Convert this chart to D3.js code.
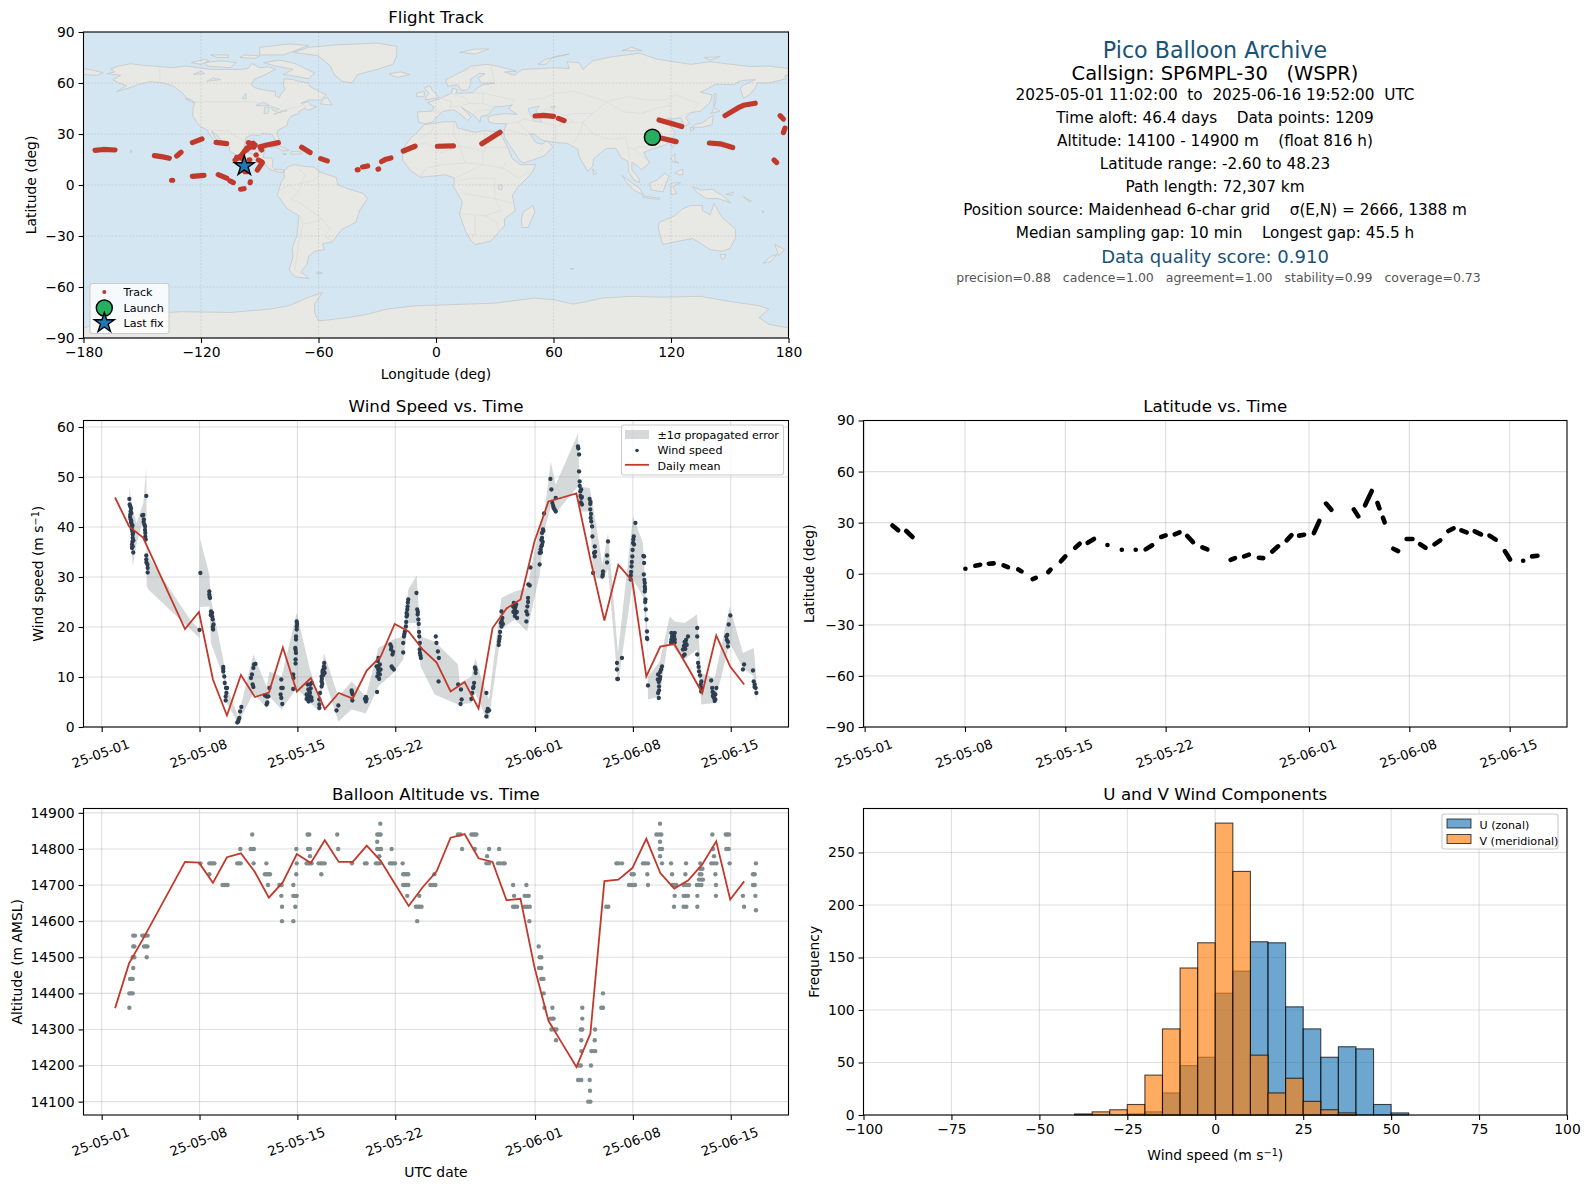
<!DOCTYPE html>
<html>
<head>
<meta charset="utf-8">
<script src="https://cdn.jsdelivr.net/npm/d3@7"></script>
<style>
html, body { margin: 0; padding: 0; background: #fff; }
svg { display: block; }
text { font-family: "DejaVu Sans", sans-serif; fill: #000; white-space: pre; }
</style>
</head>
<body>
<div id="chart"></div>
<script>
// ---- dates: every series below holds days since 2025-05-01 00:00 UTC
var startDate = Date.UTC(2025, 4, 1);
var dateTicks = [0, 7, 14, 21, 31, 38, 45];

// ---- daily means
var dailyDays = [0.96, 1.96, 2.96, 5.96, 6.96, 7.96, 8.96, 9.96, 10.96, 11.96, 12.96, 13.96, 14.96, 15.96, 16.96, 17.96, 18.96, 19.96, 20.96, 21.96, 22.96, 23.96, 24.96, 25.96, 26.96, 27.96, 28.96, 29.96, 30.96, 31.96, 32.96, 33.96, 34.96, 35.96, 36.96, 37.96, 38.96, 39.96, 40.96, 41.96, 42.96, 43.96, 44.96, 45.96];
var dailyWind = [45.9, 40.1, 37.9, 19.6, 23.0, 9.5, 2.3, 10.4, 6.0, 6.9, 15.9, 7.1, 9.8, 3.6, 6.8, 5.7, 11.3, 14.1, 20.6, 19.1, 15.5, 12.9, 7.1, 9.0, 3.7, 19.8, 23.7, 25.5, 37.1, 45.1, 45.9, 46.7, 33.5, 21.3, 32.4, 29.2, 10.1, 16.1, 16.6, 11.8, 6.8, 18.3, 12.1, 8.5];
var dailyAltitude = [14359, 14483, 14551, 14764, 14762, 14706, 14777, 14788, 14736, 14665, 14708, 14786, 14761, 14824, 14764, 14764, 14809, 14767, 14704, 14642, 14694, 14738, 14831, 14841, 14774, 14764, 14658, 14662, 14472, 14324, 14260, 14196, 14289, 14711, 14715, 14747, 14828, 14733, 14690, 14713, 14757, 14821, 14660, 14710];

// ---- wind speed error band [day, low, high]
var windBand = [[1.98,44.1,48.0],[2.22,32.1,43.5],[2.5,36.8,40.8],[2.98,41.5,44.8],[3.19,42.1,51.8],[3.22,28.1,37.1],[3.34,27.5,34.1],[6.32,19.6,21.5],[6.98,17.8,19.5],[7.03,24,37.7],[7.7,24.1,30.5],[7.82,16.8,25.5],[8.7,10,13.5],[8.94,4.8,8.1],[9.77,0.8,2.1],[10.85,6.8,14.5],[11.8,3.8,8.1],[12,6.1,11.1],[12.87,3.5,10.1],[13.95,7.8,22.8],[14.9,4.8,11.5],[15.57,3.1,5.8],[15.9,10.1,14.8],[16.93,1.1,6.1],[17.88,3.5,9.1],[18.9,2.7,6.1],[19.79,8.1,15.8],[20.86,10.8,17.5],[21.57,13.5,18.1],[21.93,20.8,27.5],[22.53,20.8,30.3],[22.81,12.1,18.1],[23.82,6.5,17.1],[25.49,4.5,12.5],[25.61,4.5,8.8],[26.45,4.8,10.1],[26.73,6.8,13.8],[27.04,4.8,10.8],[27.52,1.8,6.8],[27.71,1.5,5.5],[28.59,19.5,25.8],[29.55,21.5,27.1],[30.43,19.1,27.8],[31.33,30.5,40.1],[31.69,39.5,43.5],[32.12,44.1,53.1],[32.48,42.8,48.5],[34.07,48.1,58.7],[34.19,43.1,48.1],[34.91,43.1,47.8],[35.15,30.1,44.1],[35.82,29.5,32.5],[36.22,31.5,38.8],[36.93,8.5,14.8],[38.01,29.5,42.1],[38.72,26.1,36.8],[39.03,16.1,19.5],[39.08,5.5,10.1],[39.92,6.1,13.1],[40.63,19.5,22.1],[40.99,15.5,21.1],[41.7,13.5,20.8],[42.58,15.5,22.5],[42.9,4.5,10.8],[43.85,4.8,9.8],[44.92,16.8,24.1],[45.87,11.8,14.8],[46.64,10.1,15.8],[46.83,4.8,10.1]];

// ---- wind speed fixes [day, m/s]
var windPoints = [[1.98,45.6],[2.0,44.5],[2.05,44.1],[2.1,43.7],[2.07,43.1],[2.12,42.8],[2.03,42],[2.07,41.5],[2.1,40.9],[2.15,40.5],[2.17,40.1],[2.2,39.1],[2.22,38.5],[2.22,37.8],[2.2,37.1],[2.22,36.1],[2.17,35.8],[2.26,34.9],[2.15,39.6],[2.25,38.9],[2.12,41.2],[2.2,40.3],[2.05,42.5],[2.17,36.5],[2.27,37.3],
[3.19,46.2],[2.9,42.3],[2.98,42.4],[3.02,41.5],[3.05,40.5],[3.1,40.1],[3.12,38.8],[3.12,38.1],[3.15,37.5],[3.19,34.3],[3.19,33.5],[3.27,32.5],[3.29,31.8],[3.29,30.9],[3.0,41],[3.1,39.4],[3.2,32.9],
[7.06,30.8],[7.0,19.4],[7.7,27.1],[7.7,26.5],[7.75,25.8],[7.82,23.1],[7.9,22.8],[7.9,22.1],[7.95,21.5],[8.0,20.5],[7.97,19.5],[7.8,22.4],[7.95,20],[7.72,26],
[8.7,12],[8.7,11.1],[8.77,10.1],[8.8,8.8],[8.89,7.8],[8.97,7.8],[8.92,6.8],[8.87,6.1],[8.87,5.3],[8.7,11.6],
[9.99,4],[9.9,3.1],[9.85,1.8],[9.77,1.1],[9.7,0.9],[9.8,1.5],
[10.9,12.5],[10.85,11.8],[10.75,10.5],[10.68,9.8],[10.8,8.5],[10.85,8],[11.0,12.6],
[11.68,6.3],[11.8,6.1],[11.92,6.1],[12,7.8],[11.8,4.5],[11.85,4.9],
[12.85,9.5],[12.85,7.8],[12.8,6.5],[12.85,5.8],[12.92,4.6],[12.95,7.8],
[13.7,7.6],[13.7,10.5],[13.72,9.8],[13.95,21.1],[13.95,20.1],[13.95,19.5],[13.9,18.1],[13.9,17.5],[13.85,15.8],[13.9,14.8],[13.87,13.5],[13.87,12.7],[13.98,20.6],[13.87,15.4],
[14.73,8.5],[14.9,8.5],[15.02,8.8],[14.78,7.5],[14.9,6.8],[14.66,6.5],[14.9,6.1],[14.78,5.5],[15.02,5.3],[14.66,5.6],[14.85,7.1],[14.72,6],[14.95,7.7],[14.8,5.1],[15.0,5.9],
[15.57,3.8],[15.57,4.5],[15.57,5.5],[15.62,6.8],[15.73,8.1],[15.73,9.1],[15.73,10.1],[15.8,10.8],[15.85,11.5],[15.9,12.1],[15.92,12.8],[15.8,11.2],[15.95,11.8],[15.75,9.6],[15.85,10.4],[15.95,10.8],[15.9,11],[15.78,8.6],
[16.93,4.3],[16.8,3.3],[17.88,7.3],[17.95,6.5],[17.93,5.3],[17.9,6.9],[18.9,6],[18.9,5.1],[18.83,5.6],[18.95,5.6],
[19.7,7],[19.78,12.1],[19.78,11.5],[19.78,10.8],[19.72,10.1],[19.67,12.1],[19.9,12.5],[19.95,11.5],[19.9,10.5],[19.85,11.2],[19.75,13.2],[19.8,13.8],[19.85,9.6],
[20.65,16.5],[20.7,15.5],[20.8,14.5],[20.74,12.1],[20.8,11.8],[20.9,11.5],[20.85,15],[20.72,16],
[21.57,14.9],[21.57,16.8],[21.62,18.1],[21.69,19.1],[21.76,20.1],[21.81,22.1],[21.86,23.5],[21.88,24.1],[21.93,25.5],[21.81,22.8],[21.78,21],[21.65,18.6],[21.9,24.9],[21.85,22.4],
[22.52,26.8],[22.57,23.5],[22.6,22.5],[22.65,21.5],[22.72,18.1],[22.76,16.8],[22.76,14.8],[22.83,13.8],[22.7,19],[22.75,15.5],[22.62,23],[22.68,20.6],[22.8,14.3],
[23.9,18.1],[23.95,16.8],[24.05,15.1],[24.12,13.8],[24.1,9.1],
[25.5,8.5],[25.7,7.5],[25.75,5.5],[25.67,4.6],[26.45,5.6],[26.57,7.8],[26.64,8.8],[26.5,6.8],[26.75,11.5],[26.75,10.8],[26.6,8],[26.7,11.9],
[27.52,6.8],[27.57,3.1],[27.52,2.1],[27.71,3.3],[27.62,3.6],
[28.42,17.1],[28.47,18.1],[28.6,20.1],[28.66,21.8],[28.6,23.1],[28.5,19],[28.55,20.8],[28.4,16.4],[28.45,17.6],[28.62,21.2],[28.7,20.6],
[29.43,24.1],[29.55,23.5],[29.62,22.8],[29.71,21.8],[29.48,24.8],[29.6,24],[29.45,23],[29.7,23],[29.55,22.2],[29.65,24.5],[29.5,24],
[30.38,21.1],[30.38,23.1],[30.45,24.1],[30.5,25.8],[30.52,28.5],[30.62,28.3],[30.45,22.5],[30.5,25],
[30.67,31.9],[31.33,32.5],[31.33,34.8],[31.45,36.1],[31.5,37.8],[31.57,39.5],[31.64,42.7],[31.4,35.5],[31.5,38.8],[31.55,37],[31.45,37.4],[31.5,36.4],[31.6,39.2],[31.42,34.9],
[32.1,49.6],[32.17,47.5],[32.24,44.8],[32.33,43.8],[32.48,43.1],[32.48,45.8],[32.3,44.2],[32.4,43.5],
[34.07,56.1],[34.15,54.5],[34.15,51.1],[34.19,49.1],[34.24,47.1],[34.31,45.8],[34.36,44.5],[34.25,46.2],[34.3,47.5],[34.1,55.7],[34.35,46],[34.28,44.9],[34.2,48.2],
[34.9,45.6],[34.95,43.5],[34.98,41.8],[35.08,40.1],[35.1,38.1],[34.95,44.6],[35,42.6],[34.97,45],[35.02,41.1],
[35.27,36.1],[35.27,34.1],[35.15,30.8],[35.3,35],[35.22,34.8],[35.86,31.1],[35.82,30.1],[36.22,37.1],[36.15,34.3],[36.15,32.9],[35.85,30.5],
[36.86,12.8],[36.86,11.5],[36.93,9.6],[37.22,13.8],[36.88,9.6],
[37.84,29.5],[37.9,32.1],[37.96,34.1],[38.06,38.1],[38.18,40.8],[38.01,36.8],[37.87,31],[37.92,33],[38.03,37.5],[37.98,35.4],[37.85,30.3],[38.08,36.5],
[38.8,34.1],[38.8,32.8],[38.78,30.5],[38.85,28.1],[38.85,27.1],[38.9,25.5],[38.92,23.5],[38.97,21.5],[39.01,19.1],[39.03,17.6],[38.85,28.8],[38.87,27.6],[38.82,29.4],[38.88,25],[39.0,17.8],[38.75,34.2],
[39.08,8.3],[39.8,10.5],[39.92,9.5],[39.87,8.1],[39.8,6.8],[40.08,12.1],[39.95,11],[39.87,7.3],[39.85,9],[39.95,10],[39.78,9.5],[40.02,11.5],[39.85,5.8],
[40.75,18.8],[40.99,18.8],[40.87,17.5],[40.75,17.5],[40.99,17.5],[40.87,18.2],[40.8,18.1],[40.95,18.1],[40.85,16.8],[40.99,16.9],[40.72,16.9],
[41.58,15.5],[41.77,16.8],[41.94,18.1],[41.7,14.5],[41.65,16.2],[41.8,17.4],[41.7,17],[41.85,16.4],[41.6,14.2],[41.75,15.6],
[42.6,19.8],[42.6,18.1],[42.6,14.5],[42.66,12.8],[42.73,11.1],[42.9,9.1],[42.9,7.8],[42.7,12],[42.8,10.3],[42.85,8.5],[42.88,7.1],
[43.6,9.3],[43.67,7.8],[43.76,6.1],[43.9,5.5],[43.97,7.8],[43.7,7],[43.8,5.8],[43.85,5.2],[43.78,6.8],[43.9,6.5],[43.72,6.2],
[44.68,18.1],[44.8,16.1],[44.85,20.5],[44.97,22.3],[44.72,17.4],[44.8,17],[44.75,18.4],
[45.87,11.5],[45.95,12.5],[46.59,11.3],[46.64,9.1],[46.71,8.5],[46.78,7.8],[46.83,6.8],[46.7,8]];

// ---- altitude fixes: reported altitude, then the days it was reported
var altitudeFixes = [
[14100,[34.81,34.96]],[14130,[34.93]],[14160,[34.08,34.19,34.31,34.91]],[14200,[34.12,34.27,35.0]],
[14240,[34.31,35.03,35.15,35.31]],[14270,[34.31,35.27,32.50]],[14300,[32.17,32.41,32.53,34.27,34.38,35.29]],
[14330,[32.10,32.24,32.33,34.38]],[14360,[1.98,31.67,32.24,34.38,35.74,35.86]],[14400,[1.98,2.10,2.22,31.62,35.86]],
[14440,[2.03,2.12,2.22,31.45,31.60]],[14470,[2.26,31.29,31.45]],[14500,[2.22,2.34,3.22,31.33,31.45]],
[14530,[2.26,2.34,3.03,3.15,3.27,31.26]],[14560,[2.26,2.38,2.91,3.03,3.15,3.29]],[14600,[12.90,13.71,22.57,30.59]],
[14630,[46.80]],
[14640,[12.90,13.85,22.48,22.60,22.72,22.88,29.43,29.55,29.71,30.26,30.43,30.62,36.10,36.24,40.94,41.63,41.82,42.61,45.95]],
[14670,[12.85,13.71,13.83,13.95,21.86,22.72,29.50,30.26,30.43,30.55,40.99,41.63,41.77,41.94,42.61,43.94,45.87,46.76]],
[14700,[8.65,8.77,8.89,9.01,11.90,12.71,12.87,13.71,21.57,21.69,21.81,21.93,23.51,23.63,23.75,23.87,29.43,30.38,37.72,37.89,38.01,38.15,39.08,40.82,40.99,41.11,41.63,41.82,42.01,42.58,42.73,42.90,43.94,46.59,46.71]],
[14715,[42.73,42.90,43.01]],
[14730,[7.70,11.68,11.80,11.92,12.04,13.92,15.71,21.57,21.69,21.81,21.93,23.80,37.91,38.06,39.03,40.80,41.75,42.78,42.90,43.90,46.59,46.71]],
[14745,[42.82,42.97]],
[14760,[7.06,7.70,7.82,7.94,8.06,9.70,9.82,9.94,10.87,11.78,13.95,14.66,14.78,14.90,15.02,15.52,15.66,15.78,15.95,17.90,18.83,18.95,19.62,19.74,19.90,20.62,20.74,20.86,20.98,21.53,27.52,27.71,28.35,28.52,28.71,28.83,36.82,36.96,37.22,38.72,38.89,39.08,40.08,40.73,41.80,42.82,43.61,43.78,43.97,44.92,46.80]],
[14780,[14.90,19.86,27.57,39.94,43.80]],
[14800,[9.92,10.66,10.77,10.89,13.92,14.76,14.90,16.92,19.71,19.86,19.98,20.74,25.78,26.69,27.71,28.43,39.92,40.08,43.73,44.68,44.85]],
[14820,[19.71,39.94]],
[14840,[10.77,14.73,14.85,16.85,19.71,19.83,19.95,25.49,25.66,26.45,26.57,26.69,26.80,39.68,39.87,40.03,43.68,44.64,44.75,44.87]],
[14870,[19.93,39.94]]
];

// ---- latitude runs [day, lat]
var latitudeRuns = [
[[1.94,28.4],[2.34,25.5]],[[2.9,25.1],[3.34,21.6]],[[7.03,2.9]],[[7.72,4.7],[8.06,5.3]],[[8.66,5.9],[9,6.1]],[[9.69,4.9],[10,3.9]],
[[10.72,2.5],[10.94,1.4]],[[11.72,-3.1],[11.94,-2.4]],[[12.81,1],[12.97,2.4]],[[13.69,7.3],[14,10.2]],[[14.69,15.3],[15,17.6]],
[[15.56,18.2],[16,20.4]],[[16.94,16.9]],[[17.94,14.1]],[[18.91,14.1]],[[19.6,14.3],[20.06,16.7]],[[20.69,21.6],[21,22.5]],
[[21.63,23.1],[21.97,24.3]],[[22.5,22.2],[22.91,18.6]],[[23.56,15.5],[23.91,14.3]],[[25.53,8.2],[25.84,9.2]],[[26.47,10.2],[26.81,11.2]],
[[27.5,9.4],[27.81,9.2]],[[28.44,13.1],[28.84,16.1]],[[29.44,19.6],[29.78,22.7]],[[30.31,22.4],[30.66,22.9]],[[31.34,23.9],[31.72,31]],
[[32.19,41.2],[32.56,37.6]],[[34.13,37.8],[34.44,33.7]],[[34.91,40.2],[35.38,48.6]],[[35.78,41.6],[35.91,38.4]],[[36.16,32.9],[36.28,30.2]],
[[36.88,14.7],[37.22,13.3]],[[37.81,20.4],[38.22,20.4]],[[38.75,17.3],[39.13,15.3]],[[39.75,17.3],[40.16,19.6]],[[40.72,25.1],[41.09,26.7]],
[[41.63,25.5],[42,24.3]],[[42.56,24.9],[43,23.1]],[[43.59,22.4],[44.03,20]],[[44.66,13.3],[45.03,8.4]],[[45.94,7.6]],[[46.56,10.2],[46.94,10.6]]
];

// ---- ground track runs [lon, lat]
var trackRuns = [
[[-174.1,20.4],[-170,20.9],[-163.9,20.6]],[[-143.8,17.3],[-140.1,16.7],[-136.2,15.7]],[[-132.4,17.1],[-130.2,19.3]],[[-124.4,24.9],[-119.5,27.1]],
[[-112.3,25.1],[-106.9,24.3]],[[-135,2.8],[-134.5,2.8]],[[-124.4,5.1],[-118.5,5.7]],[[-111.2,6.1],[-106.9,4]],[[-105.2,2.4],[-103.5,1.4]],
[[-99.8,-2.5],[-98,-2.2]],[[-94.9,1.3],[-94.8,1.9]],
[[-102.6,14.7],[-99.2,17.6],[-96.7,21.6]],[[-96.7,20.6],[-93.3,24.5]],[[-95.8,24.9],[-92.4,23.5]],[[-95.5,22.5],[-93,22.2]],[[-91.9,17.6],[-91.8,17.7]],
[[-90.7,14.7],[-89,13.7]],[[-91.2,8.8],[-88.7,13.1]],[[-97.5,7.8],[-96.9,7.8]],[[-95.3,14.7],[-95.1,14.8]],[[-101.8,16.3],[-99.3,15.7]],
[[-89,20.6],[-89.9,22.5],[-86.4,23.5],[-80.5,24.9]],[[-68.6,22.2],[-64.3,19.1]],[[-58.9,15.5],[-55.5,14.2]],[[-40.2,8.9],[-39.8,9]],
[[-37.5,10.6],[-34.9,11.2]],[[-29.6,9.3],[-29.3,9.4]],[[-27.8,13.8],[-25.5,15.2],[-23,15.9]],[[-16.7,20],[-10.7,22.8]],
[[0.71,22.8],[8.9,23]],[[23.4,24.3],[32.7,31]],[[50.6,40.6],[55,41],[60,40.4]],[[62.5,39.2],[65.4,37.9]],[[113.9,38.3],[125.5,34.4]],
[[110.5,28.1],[115.3,27.5],[122.6,25.5]],[[139.6,24.7],[145.1,24.2],[151.5,22]],[[147.6,40.8],[154.4,45.5],[157,46.9],[163,48.1]],
[[175.7,40.8],[177.4,38.8]],[[177.4,30.8],[178.2,33.4]],[[172.6,14.7],[174,13.2]]
];
var launchPoint = [110.5, 28.1];
var lastFix = [-97.9, 11.2];

// ---- land outlines [lon, lat]
var landOutlines = [
[[-168,65.5],[-164,66.5],[-166,68.3],[-162,70],[-156,71.3],[-150,70.5],[-141,69.7],[-135,69],[-128,70],[-124,69.5],[-115,68],[-108,68],[-100,68],[-96,68.5],[-94,71.5],[-90,69],[-85,69.5],[-82,68],[-87,65],[-93,62],[-94.5,59],[-92,57],[-85,55.3],[-82,55],[-82,52.5],[-80,51.3],[-79,54],[-77,56],[-78,59],[-77.5,62.5],[-73,62],[-70,61],[-65,60],[-64.5,58],[-61,56],[-56,53],[-59,50],[-65,50],[-69,48],[-65,49],[-64,47],[-61,46],[-65,44],[-67,45],[-70,43.5],[-70,42],[-74,40.5],[-75.5,38],[-76,35],[-78,33.8],[-81,32],[-81,30],[-80,26.5],[-81,25],[-82.5,27.5],[-84,30],[-89,30.3],[-90,29],[-94,29.5],[-97,28],[-97.5,25],[-97.8,22],[-96,19],[-94,18.2],[-91,18.7],[-90.5,21],[-87,21.5],[-88,18],[-88.5,16],[-84,15.8],[-83.3,14],[-83.7,11],[-82.5,9.2],[-80,9.2],[-77.5,8.7],[-78,7.5],[-80,7.5],[-81.5,8],[-83.5,8.5],[-85.7,10],[-87.5,13],[-91.5,14],[-94,16],[-97,15.8],[-101.5,17.5],[-105.5,20],[-105.5,22.5],[-109,25.5],[-112.5,30],[-114.7,31.7],[-113,28],[-110,24],[-112,25],[-115,28.5],[-117,32.5],[-120.5,34.5],[-122.5,37.5],[-124.3,40.5],[-124,46],[-123,48.5],[-127,51],[-130,54.5],[-134,58],[-139,60],[-146,60.8],[-152,59],[-157,57],[-163,55],[-158,58.5],[-162,60],[-165,62],[-161,64.5]],
[[-73,78],[-65,81],[-50,82.5],[-30,83.5],[-20,81.5],[-20,76],[-22,71],[-30,68],[-40,65],[-43,60],[-48,61],[-52,65],[-54,70],[-60,76]],
[[-80,73.5],[-72,71.5],[-66,68],[-62,66],[-65,62.5],[-72,64],[-78,65],[-73,68],[-82,70],[-88,72]],
[[-117,70],[-105,69],[-102,72],[-110,73],[-118,72]],[[-125,72],[-118,74],[-116,73],[-120,71]],[[-90,76.5],[-78,76.5],[-65,82],[-75,83],[-90,81]],
[[-100,75],[-92,74.5],[-90,76],[-98,76.5]],[[-112,75],[-106,75],[-106,76.5],[-115,76.5]],[[-59,47.7],[-53,47],[-55.5,51.5],[-57.5,50.5]],
[[-85,22],[-80,23],[-75,20.3],[-78,20],[-82,22.5]],[[-74,19.7],[-69,19.5],[-68.5,18.4],[-74,18]],[[-78.3,18.4],[-76.3,18.2],[-77,17.8]],
[[-128,50.8],[-125,50],[-123.5,48.4],[-125.5,49]],[[-156,19],[-155,19.8],[-156,20.7]],
[[-77.5,8.7],[-75,11],[-72,12],[-68,11],[-62,10.5],[-60,8],[-55,6],[-51,4.5],[-50,0],[-44,-2.5],[-37,-5],[-35,-8],[-39,-15],[-41,-22],[-48,-26],[-53,-33.5],[-58,-34.5],[-57,-38],[-62,-39],[-65,-42],[-66,-47],[-69,-51],[-65,-55],[-72,-54],[-75,-50],[-73,-42],[-73.5,-37],[-71,-30],[-70,-18],[-76,-14],[-81,-6],[-80,-2],[-79,2],[-77.5,4]],
[[-61,-52],[-58,-52],[-58.5,-51.5],[-60,-51.3]],
[[-6,35.5],[3,37],[10,37.3],[11,33.5],[20,31],[25,32],[32.5,31],[34,28],[37,21],[39,15.5],[43,12],[51,12],[49,7],[42,-1],[39,-6],[40.5,-15],[35,-20],[35,-24],[32.5,-27],[28,-33],[20,-35],[18,-33],[15,-27],[12,-17],[13.5,-10],[9,-1],[9.5,4],[5,6],[-4,5],[-8,4.5],[-13,8.5],[-17,14.5],[-17,21],[-13,27.5],[-9.5,31]],
[[49.5,-12],[50.5,-16],[47,-25],[44,-25],[43.5,-21],[44.5,-16]],
[[-9,37],[-9.5,43],[-2,43.5],[-1,46],[-4.5,48.5],[1.5,50.5],[4,52],[8,54],[8.5,57],[11,56],[10,54],[14,54],[19,54.5],[21,57],[24,59],[30,60],[23,60],[21.5,63],[25,65.5],[22,65.7],[17.5,62],[18,59.5],[16,56],[13,55.5],[11,59],[6,58],[5,62],[12,66],[18,70],[26,71],[31,70],[41,67],[35,66.5],[40,64.5],[44,68],[54,68.5],[60,69],[68,68.5],[67,72.5],[73,72],[75,68],[80,73],[90,75.5],[104,77.5],[113,74],[130,71],[140,72.5],[160,69.7],[170,70],[180,68.5],[180,65],[178,64],[179,62.5],[170,60],[164,60],[163,57],[160,53],[157,51],[155.5,56],[156,58],[163,62],[156,61.5],[152,59],[143,59.3],[135,54.5],[141,53],[140,48.5],[135,43.5],[130,42.5],[127.5,39.8],[129.5,36],[126.5,34.5],[126,37],[125,39.5],[121.5,39],[118,39],[122,37],[119.5,35],[122,31],[121,28],[117,23.5],[110,21],[106,19],[109,13],[105,9],[103,11],[100,13.5],[100,9],[103.5,4],[104,1.3],[101,3],[98.3,8],[98,14],[94.5,16],[92,21.5],[87,21.5],[80.5,15.5],[80,11],[77.5,8],[73,17],[72.5,21],[67,24.5],[61,25],[57,25.7],[54,26.5],[50,30],[48,30],[51,25],[54,24],[56.5,26],[59.8,22.5],[55,17],[45,13],[43,14],[39,21],[35,28],[34.5,31],[36,36],[30,36.2],[27,37],[26.5,40],[29,41],[35,42],[41.5,41.5],[37,45],[39,47],[33,46],[30,46],[28,43],[26,40.8],[23,40.5],[22.5,37],[19.5,41],[13,45.7],[18,40],[16,38],[12,42],[9,44.3],[3.5,43.3],[0,39.5],[-2,36.8],[-5.5,36]],
[[-180,68.5],[-175,67.5],[-170,66],[-173,64.5],[-180,65]],
[[-5.5,50],[1.5,51.5],[0,53.5],[-2,56],[-3,58.5],[-6,57],[-3.5,54],[-5,52]],[[-10,52],[-6,52],[-6,55],[-10,54]],[[-24,65.5],[-18,66.5],[-13.5,65],[-19,63.4],[-22,64]],
[[12,78],[20,80],[27,80],[20,77]],[[52,71],[56,74],[68,77],[60,75.5],[56,71]],[[95,79],[105,79],[100,81]],[[137,75],[145,75.5],[140,73.5]],
[[130.5,34],[136,34],[141,35.5],[141.5,41],[140,40],[136,36.5],[132,35.5]],[[140,42],[145,43.5],[142,45.5],[141,43]],[[130,31.5],[132,33],[130,34]],[[142,46],[143,50],[143,54],[142,53.5],[142,48]],
[[120,23],[121,25],[122,25],[121,22]],[[120,16],[122,18.5],[122,14],[124,13],[121,13.5]],[[122,7],[126,9.5],[126,6],[124,6]],[[109,1],[113,3],[117,7],[119,5],[117.5,1],[116,-4],[110,-3]],
[[95,5.5],[104,-2],[106,-6],[101,-3],[97,2]],[[105.5,-6.5],[114.5,-7.7],[114,-8.5],[106,-7.5]],[[120,1],[125,1.5],[121,-1],[123,-5],[120,-5.5]],[[131,-1],[135,-3],[141,-2.5],[146,-6],[150.5,-10.5],[144,-8],[138,-8],[133,-4]],
[[148,-5.5],[152,-4],[151,-6]],[[157,-7],[161,-9.5],[160,-10]],[[166.5,-15],[167.5,-16],[167,-16.5]],
[[114,-22],[122,-18],[126,-14],[130,-12],[136,-12],[136,-15],[140,-17.5],[142,-11],[146,-19],[153,-26],[153,-31],[150,-37.5],[146,-39],[140,-38],[136,-35],[131,-31.5],[124,-33],[116,-35],[115,-32],[113.5,-25]],
[[145,-41],[148,-41],[147,-43.5],[146,-43.5]],[[167,-46],[171,-42],[174,-41],[171,-45]],[[173,-35],[178,-38],[175,-41.5],[174,-38]],[[80,9.5],[82,7],[80.5,6]],
[[68.5,-49.2],[70.5,-49.2],[70,-49.8]],
[[-180,-84],[-160,-78],[-150,-76],[-130,-74.5],[-105,-75],[-85,-73],[-75,-71],[-65,-66],[-58,-63.3],[-62,-70],[-62,-75],[-60,-80],[-45,-78],[-35,-76],[-25,-73],[-10,-71],[5,-70.5],[30,-69.5],[50,-66.5],[60,-67.5],[70,-70],[75,-69],[85,-66.5],[100,-65.5],[115,-66],[135,-65.5],[150,-68.5],[165,-71],[170,-73],[165,-78],[170,-82],[180,-84],[180,-90],[-180,-90]]
];
// inland water
var lakeOutlines = [
[[47,45],[53,46.5],[51,44],[53,40],[54,37],[50,37.5],[49,40],[47.5,43]],
[[-92,46.7],[-85,46.7],[-88,48.8]],[[-87.8,42],[-86,42],[-85,46],[-87.5,45.5]],[[-84,46],[-80,44.8],[-82,43.2],[-83.5,44]],[[-83,41.7],[-79,42.8],[-80,42.8]],[[-79.5,43.3],[-76,43.5],[-76.5,44.2]],
[[-124,65],[-118,65.5],[-120,67]],[[-117,61],[-110,62],[-114,63]],[[-99,51],[-97,50.5],[-97,54]],[[32,0],[34,0],[33.5,-3],[32,-2.5]],[[58.5,46],[61,46.5],[60,44.5]]
];
// a few country borders, drawn very faint
var borderLines = [
[[-123,49],[-95,49],[-88,48],[-83,46],[-82,43],[-79,43],[-75,45],[-70,46],[-67.5,47.5],[-67,45]],[[-141,69.7],[-141,60],[-135,59]],[[-117,32.5],[-106,31.7],[-103,29],[-97.5,26]],
[[-92,14.5],[-91,17],[-89,18]],[[-72,12],[-67,6],[-70,-4],[-74,-8],[-69,-11],[-58,-20],[-54,-26],[-57,-30],[-53,-33]],[[-80,-3],[-75,0],[-70,-4]],[[-60,8],[-60,5],[-64,2],[-70,1]],[[-69,-18],[-68,-23],[-70,-33],[-72,-50],[-69,-52]],[[-58,-20],[-63,-22],[-68,-23]],
[[-9,27],[-2,32],[-1,35]],[[9,37],[9,30],[12,23],[25,20],[25,32]],[[25,22],[37,22]],[[-17,21],[-5,25],[3,19],[12,23],[15,13],[3,12],[-5,10],[-8,5]],[[15,13],[24,12],[24,20]],[[24,12],[34,10],[36,14]],[[34,10],[42,4],[48,8]],[[9.5,4],[15,7],[24,12]],[[14,-5],[30,-8],[30,4],[18,4],[9,2]],[[30,-8],[40,-11]],[[12,-17],[25,-18],[33,-15],[30,-8]],[[20,-18],[20,-29],[17,-29]],[[25,-18],[31,-22],[32,-27]],
[[-2,43.5],[3,42.5]],[[2,51],[8,49],[7,44]],[[8,54],[15,51],[17,48],[13,46.5],[7,46]],[[14,54],[24,54],[24,48],[17,48]],[[24,48],[30,46]],[[24,54],[32,52],[40,50],[38,47]],[[30,60],[28,70]],[[23,40.5],[27,42],[28,44],[22,44],[19.5,42]],[[12,66],[20,69]],
[[36,36],[42,37],[45,39],[48,38],[54,37],[61,35],[61,25]],[[42,37],[48,30]],[[36,32],[39,32],[47,29]],[[52,19],[55,22]],[[61,35],[70,37],[75,37],[74,32],[70,24]],[[75,37],[80,30],[88,27],[92,27],[97,28],[98,22],[101,21],[105,23],[108,22]],[[98,22],[99,15]],[[101,21],[105,17],[108,15]],
[[47,50],[55,51],[61,54],[70,55],[77,53],[87,49],[98,52],[107,50],[117,50],[122,53],[134,48],[131,43]],[[87,49],[96,43],[105,42],[112,45],[120,47],[117,50]],[[54,42],[56,45],[66,41],[70,37]],[[80,42],[70,42],[66,41]],[[87,49],[80,42],[75,37]],[[124,40],[128,42],[131,43]]
];

// ---- histogram: bin edges every 5 m/s, counts read bar by bar
var binEdges = d3.range(-40, 60, 5);
var uCounts = [0, 0, 0, 1, 3, 21, 47, 55, 116, 137, 165, 164, 103, 82, 55, 65, 63, 10, 2];
var vCounts = [1, 3, 5, 10, 38, 82, 140, 164, 278, 232, 57, 21, 35, 13, 5, 2, 0, 0, 0];

// ---- text block
var infoLines = [
  "2025-05-01 11:02:00  to  2025-06-16 19:52:00  UTC",
  "Time aloft: 46.4 days    Data points: 1209",
  "Altitude: 14100 - 14900 m    (float 816 h)",
  "Latitude range: -2.60 to 48.23",
  "Path length: 72,307 km",
  "Position source: Maidenhead 6-char grid    \u03C3(E,N) = 2666, 1388 m",
  "Median sampling gap: 10 min    Longest gap: 45.5 h"
];
var scoreLine = "Data quality score: 0.910";
var scoreDetail = "precision=0.88   cadence=1.00   agreement=1.00   stability=0.99   coverage=0.73";

// ---- layout and colours
var width = 1590, height = 1189;
var red = "#c0392b", navy = "#2c3e50", slate = "#7f8c8d", titleBlue = "#1a5276";
var gridColor = "#b0b0b0";
var tickFont = 13.9, dateFont = 13.2, labelFont = 13.9, titleFont = 16.7, legendFont = 11.1;

var svg = d3.select("#chart").append("svg").attr("width", width).attr("height", height);

function toDate(d) { return new Date(startDate + d * 864e5); }
var dateFormat = d3.utcFormat("%y-%m-%d");
function minus(s) { return String(s).replace("-", "\u2212"); }

// one axes box: grid, frame and ticks
function makePanel(box, title) {
    var g = svg.append("g").attr("transform", "translate(" + box.x + "," + box.y + ")");
    g.box = box;
    svg.append("text").attr("x", box.x + box.w / 2).attr("y", box.y - 9).attr("text-anchor", "middle")
        .style("font-size", titleFont + "px").text(title);
    return g;
}

function drawGrid(g, x, y, xTicks, yTicks, dash, opacity) {
    var b = g.box;
    var gr = g.append("g").attr("class", "grid").attr("stroke", gridColor).attr("stroke-width", 1.1).attr("stroke-opacity", opacity);
    if (dash) gr.attr("stroke-dasharray", dash).attr("stroke-width", 0.7);
    gr.selectAll(".v").data(xTicks).enter().append("line").attr("x1", x).attr("x2", x).attr("y1", 0).attr("y2", b.h);
    gr.selectAll(".h").data(yTicks).enter().append("line").attr("y1", y).attr("y2", y).attr("x1", 0).attr("x2", b.w);
}

function drawFrame(g, x, y, xTicks, yTicks, xFormat, yFormat, rotate) {
    var b = g.box;
    g.append("rect").attr("width", b.w).attr("height", b.h).attr("fill", "none").attr("stroke", "#000").attr("stroke-width", 1.1);
    var xa = g.append("g").attr("transform", "translate(0," + b.h + ")")
        .call(d3.axisBottom(x).tickValues(xTicks).tickFormat(xFormat).tickSize(4.9).tickPadding(4));
    var ya = g.append("g").call(d3.axisLeft(y).tickValues(yTicks).tickFormat(yFormat).tickSize(4.9).tickPadding(4));
    [xa, ya].forEach(function (a) {
        a.select(".domain").remove();
        a.selectAll("text").style("font-size", tickFont + "px").style("font-family", '"DejaVu Sans"').attr("fill", "#000");
        a.selectAll("line").attr("stroke-width", 1.1);
    });
    if (rotate) {
        xa.selectAll("text").attr("text-anchor", "middle").attr("dy", "0.32em").attr("y", 0)
            .style("font-size", dateFont + "px")
            .attr("transform", "translate(-1.4,27) rotate(-20)");
    }
}

function labelX(g, runs, dy) {
    addRuns(g.append("text").attr("x", g.box.w / 2).attr("y", g.box.h + dy).attr("text-anchor", "middle").style("font-size", labelFont + "px"), runs);
}
function labelY(g, runs, dx) {
    addRuns(g.append("text").attr("transform", "translate(" + dx + "," + (g.box.h / 2) + ") rotate(-90)").attr("text-anchor", "middle").style("font-size", labelFont + "px"), runs);
}
function addRuns(t, runs) {
    runs.forEach(function (r) {
        var s = t.append("tspan").text(r.text);
        if (r.up) s.attr("dy", "-0.4em").style("font-size", "0.7em");
        if (r.back) s.attr("dy", "0.28em");
    });
}
var speedUnit = [{ text: "Wind speed (m s" }, { text: "\u22121", up: true }, { text: ")", back: true }];

function legendBox(g, x, y, w, h) {
    g.append("rect").attr("x", x).attr("y", y).attr("width", w).attr("height", h).attr("rx", 2.5)
        .attr("fill", "#fff").attr("fill-opacity", 0.8).attr("stroke", "#ccc").attr("stroke-width", 1.1);
}
function legendText(g, x, y, s) {
    g.append("text").attr("x", x).attr("y", y).style("font-size", legendFont + "px").attr("fill", "#111").text(s);
}

// ---------- Flight track
(function () {
    var box = { x: 83.5, y: 32, w: 705, h: 306 };
    var g = makePanel(box, "Flight Track");
    var x = d3.scaleLinear().domain([-180, 180]).range([0, box.w]);
    var y = d3.scaleLinear().domain([-90, 90]).range([box.h, 0]);
    var line = d3.line().x(function (d) { return x(d[0]); }).y(function (d) { return y(d[1]); });
    var closed = d3.line().x(function (d) { return x(d[0]); }).y(function (d) { return y(d[1]); }).curve(d3.curveLinearClosed);

    g.append("rect").attr("width", box.w).attr("height", box.h).attr("fill", "#d4e6f1");
    g.append("g").selectAll("path").data(landOutlines).enter().append("path").attr("d", closed)
        .attr("fill", "#e8e8e4").attr("stroke", "#bfc3c5").attr("stroke-width", 0.7);
    g.append("g").selectAll("path").data(lakeOutlines).enter().append("path").attr("d", closed)
        .attr("fill", "#d4e6f1").attr("stroke", "#bfc3c5").attr("stroke-width", 0.6);
    g.append("g").selectAll("path").data(borderLines).enter().append("path").attr("d", line)
        .attr("fill", "none").attr("stroke", "#d9d9d6").attr("stroke-width", 0.6);

    var xTicks = d3.range(-180, 181, 60), yTicks = d3.range(-90, 91, 30);
    drawGrid(g, x, y, xTicks, yTicks, "2,1.5", 0.55);

    g.append("g").selectAll("path").data(trackRuns).enter().append("path").attr("d", line)
        .attr("fill", "none").attr("stroke", red).attr("stroke-width", 5.2).attr("stroke-linecap", "round").attr("stroke-linejoin", "round");

    g.append("circle").attr("cx", x(launchPoint[0])).attr("cy", y(launchPoint[1])).attr("r", 8)
        .attr("fill", "#27ae60").attr("stroke", "#000").attr("stroke-width", 1.4);
    g.append("path").attr("d", d3.symbol(d3.symbolStar, 124)).attr("transform", "translate(" + x(lastFix[0]) + "," + y(lastFix[1]) + ")")
        .attr("fill", "#1f77b4").attr("stroke", "#000").attr("stroke-width", 1.4);

    drawFrame(g, x, y, xTicks, yTicks, minus, minus, false);
    labelX(g, [{ text: "Longitude (deg)" }], 41);
    labelY(g, [{ text: "Latitude (deg)" }], -48);

    // legend
    legendBox(g, 6.5, 251.5, 79, 50);
    g.append("circle").attr("cx", 20.8).attr("cy", 260).attr("r", 2).attr("fill", red);
    g.append("circle").attr("cx", 20.8).attr("cy", 276).attr("r", 8).attr("fill", "#27ae60").attr("stroke", "#000").attr("stroke-width", 1.4);
    g.append("path").attr("d", d3.symbol(d3.symbolStar, 124)).attr("transform", "translate(20.8,291)").attr("fill", "#1f77b4").attr("stroke", "#000").attr("stroke-width", 1.4);
    legendText(g, 40, 264, "Track");
    legendText(g, 40, 280, "Launch");
    legendText(g, 40, 295, "Last fix");
})();

// ---------- Text block
(function () {
    var cx = 1215;
    svg.append("text").attr("x", cx).attr("y", 58).attr("text-anchor", "middle").style("font-size", "22.2px").style("fill", titleBlue).text("Pico Balloon Archive");
    svg.append("text").attr("x", cx).attr("y", 80).attr("text-anchor", "middle").style("font-size", "19.45px").text("Callsign: SP6MPL-30   (WSPR)");
    svg.selectAll(".info").data(infoLines).enter().append("text").attr("class", "info")
        .attr("x", cx).attr("y", function (d, i) { return 99.5 + i * 23.1; }).attr("text-anchor", "middle").style("font-size", "15.28px").text(String);
    svg.append("text").attr("x", cx).attr("y", 263).attr("text-anchor", "middle").style("font-size", "18px").style("fill", titleBlue).text(scoreLine);
    svg.append("text").attr("x", cx + 3.5).attr("y", 282).attr("text-anchor", "middle").style("font-size", "12.5px").style("fill", "#555").text(scoreDetail);
})();

// ---------- Wind speed
(function () {
    var box = { x: 83.5, y: 420.5, w: 705, h: 306.5 };
    var g = makePanel(box, "Wind Speed vs. Time");
    var x = d3.scaleUtc().domain([toDate(-1.3), toDate(49.13)]).range([0, box.w]);
    var y = d3.scaleLinear().domain([0, 61.3]).range([box.h, 0]);
    var xTicks = dateTicks.map(toDate), yTicks = d3.range(0, 61, 10);
    drawGrid(g, x, y, xTicks, yTicks, null, 0.4);

    var area = d3.area().x(function (d) { return x(toDate(d[0])); }).y0(function (d) { return y(d[1]); }).y1(function (d) { return y(d[2]); });
    g.append("path").attr("d", area(windBand)).attr("fill", slate).attr("fill-opacity", 0.33);
    g.append("g").selectAll("circle").data(windPoints).enter().append("circle")
        .attr("cx", function (d) { return x(toDate(d[0])); }).attr("cy", function (d) { return y(d[1]); }).attr("r", 2.15).attr("fill", navy);
    var line = d3.line().x(function (d) { return x(toDate(d)); }).y(function (d, i) { return y(dailyWind[i]); });
    g.append("path").attr("d", line(dailyDays)).attr("fill", "none").attr("stroke", red).attr("stroke-width", 1.8);

    drawFrame(g, x, y, xTicks, yTicks, dateFormat, String, true);
    labelY(g, speedUnit, -41);

    legendBox(g, 538, 4.5, 162, 50);
    g.append("rect").attr("x", 541.5).attr("y", 9.5).attr("width", 24).attr("height", 9).attr("fill", slate).attr("fill-opacity", 0.33);
    g.append("circle").attr("cx", 553.5).attr("cy", 30).attr("r", 1.8).attr("fill", navy);
    g.append("line").attr("x1", 541.5).attr("x2", 565.5).attr("y1", 44.3).attr("y2", 44.3).attr("stroke", red).attr("stroke-width", 1.8);
    legendText(g, 574, 18, "\u00B11\u03C3 propagated error");
    legendText(g, 574, 33, "Wind speed");
    legendText(g, 574, 49, "Daily mean");
})();

// ---------- Latitude
(function () {
    var box = { x: 863.5, y: 420.5, w: 703.5, h: 306.5 };
    var g = makePanel(box, "Latitude vs. Time");
    var x = d3.scaleUtc().domain([toDate(-0.08), toDate(49)]).range([0, box.w]);
    var y = d3.scaleLinear().domain([-90, 90]).range([box.h, 0]);
    var xTicks = dateTicks.map(toDate), yTicks = d3.range(-90, 91, 30);
    drawGrid(g, x, y, xTicks, yTicks, null, 0.4);
    var line = d3.line().x(function (d) { return x(toDate(d[0])); }).y(function (d) { return y(d[1]); });
    g.append("g").selectAll("path").data(latitudeRuns).enter().append("path").attr("d", function (d) {
        return d.length > 1 ? line(d) : line([d[0], d[0]]);
    }).attr("fill", "none").attr("stroke", "#000").attr("stroke-width", 4.6).attr("stroke-linecap", "round");
    drawFrame(g, x, y, xTicks, yTicks, dateFormat, minus, true);
    labelY(g, [{ text: "Latitude (deg)" }], -49.5);
})();

// ---------- Altitude
(function () {
    var box = { x: 83.5, y: 808.5, w: 705, h: 306.5 };
    var g = makePanel(box, "Balloon Altitude vs. Time");
    var x = d3.scaleUtc().domain([toDate(-1.3), toDate(49.13)]).range([0, box.w]);
    var y = d3.scaleLinear().domain([14063, 14912]).range([box.h, 0]);
    var xTicks = dateTicks.map(toDate), yTicks = d3.range(14100, 14901, 100);
    drawGrid(g, x, y, xTicks, yTicks, null, 0.4);
    var dots = [];
    altitudeFixes.forEach(function (row) { row[1].forEach(function (d) { dots.push([d, row[0]]); }); });
    g.append("g").selectAll("circle").data(dots).enter().append("circle")
        .attr("cx", function (d) { return x(toDate(d[0])); }).attr("cy", function (d) { return y(d[1]); }).attr("r", 2.2).attr("fill", slate);
    var line = d3.line().x(function (d) { return x(toDate(d)); }).y(function (d, i) { return y(dailyAltitude[i]); });
    g.append("path").attr("d", line(dailyDays)).attr("fill", "none").attr("stroke", red).attr("stroke-width", 1.8);
    drawFrame(g, x, y, xTicks, yTicks, dateFormat, String, true);
    labelX(g, [{ text: "UTC date" }], 62);
    labelY(g, [{ text: "Altitude (m AMSL)" }], -62);
})();

// ---------- Histogram
(function () {
    var box = { x: 863.5, y: 808.5, w: 703.5, h: 306.5 };
    var g = makePanel(box, "U and V Wind Components");
    var x = d3.scaleLinear().domain([-100, 100]).range([0, box.w]);
    var y = d3.scaleLinear().domain([0, 291.9]).range([box.h, 0]);
    var xTicks = d3.range(-100, 101, 25), yTicks = d3.range(0, 251, 50);
    drawGrid(g, x, y, xTicks, yTicks, null, 0.4);
    function bars(counts, color) {
        g.append("g").selectAll("rect").data(counts).enter().append("rect")
            .attr("x", function (d, i) { return x(binEdges[i]); })
            .attr("width", function (d, i) { return x(binEdges[i + 1]) - x(binEdges[i]); })
            .attr("y", function (d) { return y(d); })
            .attr("height", function (d) { return box.h - y(d); })
            .attr("fill", color).attr("fill-opacity", 0.65)
            .attr("stroke", "#000").attr("stroke-opacity", 0.7).attr("stroke-width", 1.1);
    }
    bars(uCounts, "#1f77b4");
    bars(vCounts, "#ff7f0e");
    drawFrame(g, x, y, xTicks, yTicks, minus, String, false);
    labelX(g, speedUnit, 45);
    labelY(g, [{ text: "Frequency" }], -45);

    legendBox(g, 578.5, 5.5, 116, 35);
    g.append("rect").attr("x", 583.5).attr("y", 10.5).attr("width", 24).attr("height", 9).attr("fill", "#1f77b4").attr("fill-opacity", 0.65).attr("stroke", "#000").attr("stroke-opacity", 0.7);
    g.append("rect").attr("x", 583.5).attr("y", 26).attr("width", 24).attr("height", 9).attr("fill", "#ff7f0e").attr("fill-opacity", 0.65).attr("stroke", "#000").attr("stroke-opacity", 0.7);
    legendText(g, 616, 20, "U (zonal)");
    legendText(g, 616, 36, "V (meridional)");
})();
</script>
</body>
</html>
